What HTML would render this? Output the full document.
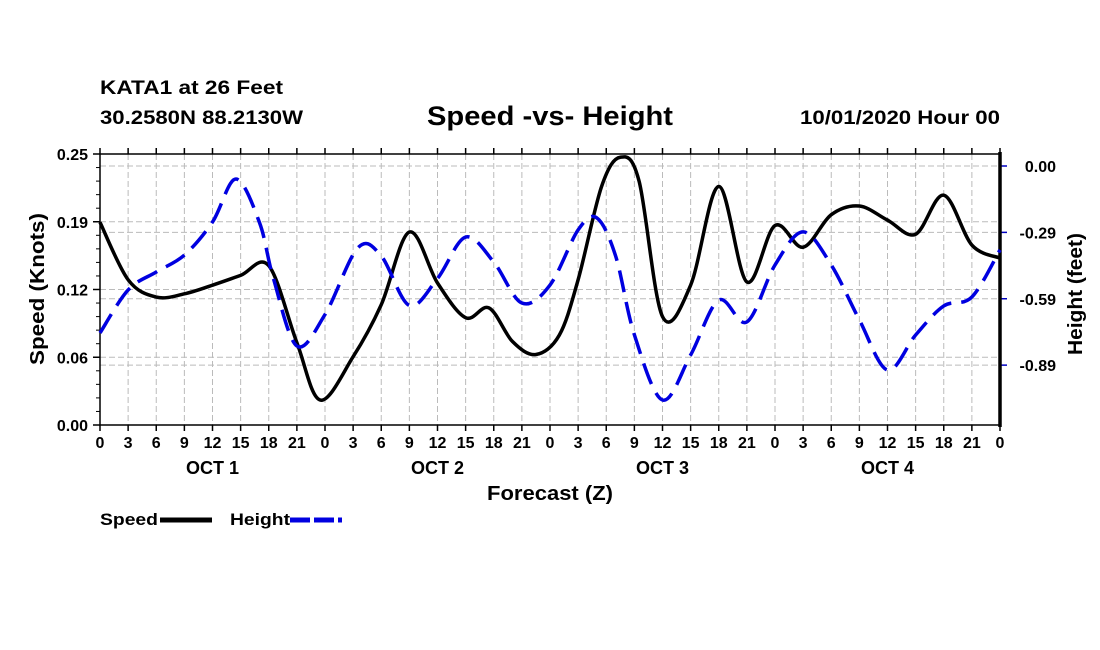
<!DOCTYPE html>
<html><head><meta charset="utf-8"><style>
body{margin:0;background:#fff;}
svg{display:block;font-family:"Liberation Sans",Arial,sans-serif;font-weight:bold;}
</style></head><body>
<svg id="chart" width="1100" height="650" viewBox="0 0 1100 650">
<text x="100" y="94" font-size="19" textLength="183" lengthAdjust="spacingAndGlyphs">KATA1 at 26 Feet</text>
<text x="100" y="124" font-size="19" textLength="203" lengthAdjust="spacingAndGlyphs">30.2580N 88.2130W</text>
<text x="427" y="125" font-size="27" textLength="246" lengthAdjust="spacingAndGlyphs">Speed -vs- Height</text>
<text x="800" y="124" font-size="19" textLength="200" lengthAdjust="spacingAndGlyphs">10/01/2020 Hour 00</text>
<g id="grid"></g><g id="axes"></g><g id="series"></g>
<text x="487" y="500" font-size="20" textLength="126" lengthAdjust="spacingAndGlyphs">Forecast (Z)</text>
<text transform="translate(44,365) rotate(-90)" font-size="20" textLength="152" lengthAdjust="spacingAndGlyphs">Speed (Knots)</text>
<text transform="translate(1082,355) rotate(-90)" font-size="20" textLength="122" lengthAdjust="spacingAndGlyphs">Height (feet)</text>
<g><text x="100" y="525" font-size="17" textLength="58" lengthAdjust="spacingAndGlyphs">Speed</text><line x1="160" y1="520" x2="212" y2="520" stroke="#000" stroke-width="5"/></g>
<g><text x="230" y="525" font-size="17" textLength="60" lengthAdjust="spacingAndGlyphs">Height</text><line x1="290" y1="520" x2="342" y2="520" stroke="#0000e0" stroke-width="5" stroke-dasharray="20,4"/></g>
</svg>
<script>
const speedHours=[0,3,6,9,12,15,18,21,23.5,27,30,33,36,39,41.5,44,46.5,49,51,53.5,55.5,57.5,60,63,66,69,72,75,78,81,84,87,90,93,96];
const speedValues=[0.187,0.134,0.118,0.121,0.129,0.138,0.147,0.076,0.023,0.063,0.111,0.178,0.131,0.099,0.108,0.077,0.065,0.083,0.134,0.220,0.247,0.225,0.100,0.129,0.220,0.132,0.184,0.164,0.194,0.202,0.189,0.176,0.212,0.166,0.154];
const heightHours=[0,3,6,9,12,14.5,17,18.5,21,24,27.5,30,33,36,39,42,45,48,51,53,55,57,60,63,66,69,72,75,78,81,84,87,90,93,96];
const heightValues=[-0.742,-0.551,-0.471,-0.396,-0.249,-0.058,-0.25,-0.50,-0.80,-0.66,-0.364,-0.40,-0.62,-0.50,-0.316,-0.427,-0.609,-0.529,-0.284,-0.231,-0.40,-0.75,-1.04,-0.84,-0.596,-0.693,-0.44,-0.293,-0.44,-0.684,-0.907,-0.751,-0.622,-0.582,-0.373];
const hourTicks=["0","3","6","9","12","15","18","21"];
const dayLabels=["OCT 1","OCT 2","OCT 3","OCT 4"];
const speedTicks=[0,0.0625,0.125,0.1875,0.25];
const speedTickLabels=["0.00","0.06","0.12","0.19","0.25"];
const heightTicks=[0,-0.295,-0.59,-0.885];
const heightTickLabels=["0.00","-0.29","-0.59","-0.89"];

const L=100,R=1000,T=154,B=425;
const xs=h=>L+h*(R-L)/96;
const ys=v=>B-v*(B-T)/0.25;
const yh=v=>166-v*225;
const NS="http://www.w3.org/2000/svg";
function mk(tag,attrs,parent){const e=document.createElementNS(NS,tag);for(const k in attrs)e.setAttribute(k,attrs[k]);parent.appendChild(e);return e;}
const grid=document.getElementById('grid'),axes=document.getElementById('axes'),series=document.getElementById('series');
for(let i=0;i<=32;i++){const x=xs(i*3);
 if(i>0&&i<32){const g=mk('line',{x1:x,x2:x,y1:T,y2:B,stroke:'#bbb','stroke-width':1,'stroke-dasharray':'6,3'},grid);
 }
 mk('line',{x1:x,x2:x,y1:B,y2:B+6,stroke:'#000','stroke-width':1.5},axes);
 mk('line',{x1:x,x2:x,y1:T,y2:T-6,stroke:'#000','stroke-width':1.5},axes);
 const t=mk('text',{x:x,y:B+23,'font-size':16,'text-anchor':'middle'},axes);t.textContent=hourTicks[i%8];
 
}
dayLabels.forEach((d,i)=>{const t=mk('text',{x:xs(i*24+12),y:474,'font-size':18,'text-anchor':'middle'},axes);t.textContent=d;
 });
speedTicks.forEach((v,i)=>{const y=ys(v);
 if(i>0&&i<speedTicks.length-1){const g=mk('line',{x1:L,x2:R,y1:y,y2:y,stroke:'#bbb','stroke-width':1,'stroke-dasharray':'6,3'},grid);
 }
 mk('line',{x1:L-7,x2:L,y1:y,y2:y,stroke:'#000','stroke-width':1.5},axes);
 const t=mk('text',{x:L-12,y:y+6,'font-size':16,'text-anchor':'end'},axes);t.textContent=speedTickLabels[i];
 });
for(let v=0;v<=0.25;v+=0.0125){mk('line',{x1:L-4,x2:L,y1:ys(v),y2:ys(v),stroke:'#000','stroke-width':1},axes);}
heightTicks.forEach((v,i)=>{const y=yh(v);
 const g=mk('line',{x1:L,x2:R,y1:y,y2:y,stroke:'#bbb','stroke-width':1,'stroke-dasharray':'6,3'},grid);
 
 mk('line',{x1:R,x2:R+7,y1:y,y2:y,stroke:'#0000c0','stroke-width':1.5},axes);
 const t=mk('text',{x:1056,y:y+6,'font-size':16,'text-anchor':'end'},axes);t.textContent=heightTickLabels[i];
 });
mk('rect',{x:L,y:T,width:R-L,height:B-T,fill:'none',stroke:'#000','stroke-width':1.5},axes);
mk('line',{x1:R,x2:R,y1:T-2,y2:B+2,stroke:'#000','stroke-width':3.5},axes);
function path(hs,vs,yf){const p=hs.map((h,i)=>[xs(h),yf(vs[i])]);let d='M'+p[0][0]+','+p[0][1];
 for(let i=0;i<p.length-1;i++){const p0=p[Math.max(0,i-1)],p1=p[i],p2=p[i+1],p3=p[Math.min(p.length-1,i+2)];
  d+=' C'+(p1[0]+(p2[0]-p0[0])/6)+','+(p1[1]+(p2[1]-p0[1])/6)+' '+(p2[0]-(p3[0]-p1[0])/6)+','+(p2[1]-(p3[1]-p1[1])/6)+' '+p2[0]+','+p2[1];}
 return d;}
const sp=mk('path',{d:path(speedHours,speedValues,ys),fill:'none',stroke:'#000','stroke-width':3.5},series);

const hp=mk('path',{d:path(heightHours,heightValues,yh),fill:'none',stroke:'#0000e0','stroke-width':3.5,'stroke-dasharray':'22,10'},series);

</script>
</body></html>
